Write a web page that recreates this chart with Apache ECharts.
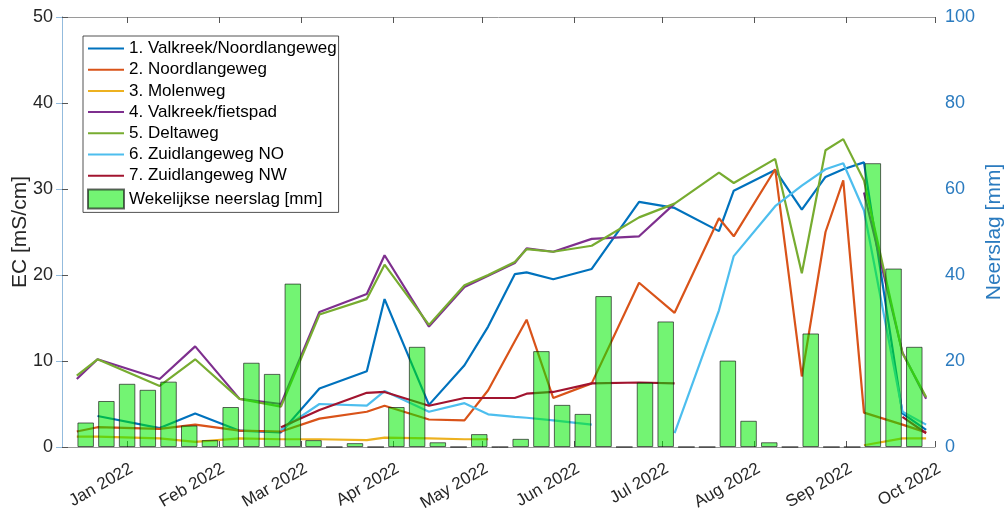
<!DOCTYPE html>
<html>
<head>
<meta charset="utf-8">
<script src="https://cdn.jsdelivr.net/npm/echarts@6/dist/echarts.min.js"></script>
<style>
  html, body { margin: 0; padding: 0; background: #fff; }
  #chart { width: 1006px; height: 516px; }
</style>
</head>
<body>
<div id="chart"></div>
<script>
// Sampling dates of the EC measurements (null = no measurement on that date)
const sampleDates = ['2021-12-15','2021-12-22','2022-01-12','2022-01-24','2022-02-08','2022-02-22',
  '2022-03-07','2022-03-23','2022-03-29','2022-04-13','2022-04-25','2022-05-03','2022-05-12',
  '2022-05-16','2022-05-25','2022-06-07','2022-06-23','2022-07-05','2022-07-20','2022-07-25',
  '2022-08-08','2022-08-17','2022-08-25','2022-08-31','2022-09-07','2022-09-20','2022-09-28'];

// EC [mS/cm] per location
const ecValkreekNoordlangeweg = [null,3.6,2.2,3.9,1.9,1.7,6.8,8.8,17.2,4.9,9.5,14.0,20.1,20.3,19.5,20.7,28.5,27.8,25.1,29.8,32.2,27.6,31.4,32.3,33.1,3.9,2.0];
const ecNoordlangeweg = [1.8,2.3,2.1,2.6,1.9,1.8,3.3,4.1,4.8,3.2,3.1,6.6,12.3,14.8,5.7,7.4,19.1,15.6,26.6,24.5,32.3,8.2,25.0,31.0,4.0,2.6,1.7];
const ecMolenweg = [1.2,1.2,1.0,0.6,1.0,0.9,0.9,0.8,1.1,1.0,0.9,0.9,null,null,null,null,null,null,null,null,null,null,null,null,0.2,1.0,1.0];
const ecValkreekFietspad = [7.9,10.2,7.9,11.7,5.6,5.0,15.7,17.8,22.3,14.0,18.6,19.9,21.4,23.1,22.7,24.2,24.5,28.3,null,null,null,null,null,null,29.6,11.0,5.6];
const ecDeltaweg = [8.3,10.2,7.1,10.2,5.6,4.7,15.4,17.2,21.2,14.2,18.8,20.0,21.5,23.0,22.7,23.4,26.7,28.3,31.9,30.7,33.5,20.2,34.5,35.8,31.0,10.9,5.8];
const ecZuidlangewegNO = [null,null,null,null,null,2.0,5.0,4.8,6.5,4.1,5.1,3.8,3.5,3.4,3.1,2.6,null,1.6,15.9,22.2,28.0,30.4,32.3,33.0,27.5,4.1,2.6];
const ecZuidlangewegNW = [null,null,null,null,null,2.3,4.3,6.3,6.4,4.8,5.7,5.7,5.7,6.2,6.4,7.4,7.5,7.4,null,null,null,null,null,null,null,3.5,1.6];

// Weekly precipitation [mm]
const precipWeeks = ['2021-12-18','2021-12-25','2022-01-01','2022-01-08','2022-01-15','2022-01-22','2022-01-29',
  '2022-02-05','2022-02-12','2022-02-19','2022-02-26','2022-03-05','2022-03-12','2022-03-19','2022-03-26',
  '2022-04-02','2022-04-09','2022-04-16','2022-04-23','2022-04-30','2022-05-07','2022-05-14','2022-05-21',
  '2022-05-28','2022-06-04','2022-06-11','2022-06-18','2022-06-25','2022-07-02','2022-07-09','2022-07-16',
  '2022-07-23','2022-07-30','2022-08-06','2022-08-13','2022-08-20','2022-08-27','2022-09-03','2022-09-10',
  '2022-09-17','2022-09-24'];
const precipMm = [5.7,10.7,14.7,13.3,15.2,5.0,1.6,9.3,19.6,17.0,38.0,1.6,0,0.9,0,9.3,23.3,1.1,0,3.0,0,1.9,22.3,
  9.8,7.7,35.1,0,15.0,29.2,0,0,20.1,6.1,1.1,0,26.4,0,0,66.0,41.5,23.3];

// Month ticks on the date axis
const monthTicks = ['2022-01-01','2022-02-01','2022-03-01','2022-04-01','2022-05-01','2022-06-01',
  '2022-07-01','2022-08-01','2022-09-01','2022-10-01'];
const monthLabels = ['Jan 2022','Feb 2022','Mar 2022','Apr 2022','May 2022','Jun 2022',
  'Jul 2022','Aug 2022','Sep 2022','Oct 2022'];
const axisStart = '2021-12-10';
const axisEnd = '2022-10-01';

const seriesNames = ['1. Valkreek/Noordlangeweg','2. Noordlangeweg','3. Molenweg','4. Valkreek/fietspad',
  '5. Deltaweg','6. Zuidlangeweg NO','7. Zuidlangeweg NW'];
const seriesValues = [ecValkreekNoordlangeweg, ecNoordlangeweg, ecMolenweg, ecValkreekFietspad,
  ecDeltaweg, ecZuidlangewegNO, ecZuidlangewegNW];
const seriesColors = ['#0072BD','#D95319','#EDB120','#7E2F8E','#77AC30','#4DBEEE','#A2142F'];
const precipName = 'Wekelijkse neerslag [mm]';

// Dates become day numbers counted from axisStart
const DAY = 86400000;
function ts(d) {
  const p = d.split('-').map(Number);
  return Date.UTC(p[0], p[1] - 1, p[2]);
}
const t0 = ts(axisStart);
function dayNo(d) { return Math.round((ts(d) - t0) / DAY); }

const tickValues = monthTicks.map(dayNo);
const labelByDay = {};
tickValues.forEach((t, i) => { labelByDay[t] = monthLabels[i]; });

const FONT = 'Liberation Sans, Arial, Helvetica, sans-serif';
const TXT = '#262626';
const RIGHT = '#2B7BBF';

const lineSeries = seriesNames.map((name, k) => ({
  name: name,
  type: 'line',
  xAxisIndex: 0,
  yAxisIndex: 0,
  data: sampleDates.map((d, i) => [dayNo(d), seriesValues[k][i]]),
  symbol: 'none',
  showSymbol: false,
  connectNulls: false,
  lineStyle: { color: seriesColors[k], width: 2.2 },
  itemStyle: { color: seriesColors[k] },
  z: 2
}));

const barSeries = {
  name: precipName,
  type: 'bar',
  xAxisIndex: 0,
  yAxisIndex: 1,
  data: precipWeeks.map((d, i) => [dayNo(d), precipMm[i]]),
  barWidth: 16.5,
  itemStyle: {
    color: 'rgba(0,235,0,0.55)',
    borderColor: 'rgba(20,20,20,0.65)',
    borderWidth: 1
  },
  z: 3
};

// Legend: plain line samples for the stations, a square swatch for the rain bars
const legendData = seriesNames.map((name) => ({ name: name, itemStyle: { opacity: 0 } }))
  .concat([{ name: precipName, icon: 'rect' }]);

const xCommon = {
  type: 'value',
  min: 0,
  max: dayNo(axisEnd),
  splitLine: { show: false },
  axisLine: { show: true, onZero: false, lineStyle: { color: '#9a9a9a', width: 1 } },
  axisTick: { show: true, inside: true, length: 6, customValues: tickValues, lineStyle: { color: '#555' } }
};

const chart = echarts.init(document.getElementById('chart'), null, { renderer: 'canvas' });
chart.setOption({
  animation: false,
  backgroundColor: '#fff',
  grid: { left: 62, right: 71, top: 17, bottom: 69, containLabel: false, outerBoundsMode: 'none' },
  legend: {
    orient: 'vertical',
    left: 83,
    top: 36,
    padding: [4, 2, 3, 4],
    itemWidth: 36,
    itemHeight: 19,
    itemGap: 4.2,
    backgroundColor: '#fff',
    borderColor: '#262626',
    borderWidth: 0.8,
    textStyle: { fontFamily: FONT, fontSize: 17, color: '#000' },
    data: legendData
  },
  xAxis: [
    Object.assign({}, xCommon, {
      position: 'bottom',
      axisLabel: {
        show: true,
        customValues: tickValues,
        rotate: 30,
        align: 'right',
        verticalAlign: 'top',
        margin: 13,
        hideOverlap: false,
        fontFamily: FONT,
        fontSize: 17,
        color: TXT,
        formatter: (v) => labelByDay[v] || ''
      }
    }),
    Object.assign({}, xCommon, {
      position: 'top',
      axisLabel: { show: false }
    })
  ],
  yAxis: [
    {
      type: 'value',
      position: 'left',
      min: 0,
      max: 50,
      interval: 10,
      name: 'EC [mS/cm]',
      nameLocation: 'middle',
      nameGap: 31,
      nameMoveOverlap: false,
      nameTextStyle: { fontFamily: FONT, fontSize: 21, color: TXT },
      splitLine: { show: false },
      axisLine: { show: true, lineStyle: { color: '#8a8a8a', width: 1 } },
      axisTick: { show: true, inside: true, length: 6, lineStyle: { color: '#555' } },
      axisLabel: { fontFamily: FONT, fontSize: 18, color: TXT, margin: 9 }
    },
    {
      type: 'value',
      position: 'right',
      min: 0,
      max: 100,
      interval: 20,
      name: 'Neerslag [mm]',
      nameLocation: 'middle',
      nameGap: 49,
      nameMoveOverlap: false,
      nameTextStyle: { fontFamily: FONT, fontSize: 21, color: RIGHT },
      splitLine: { show: false },
      axisLine: { show: true, lineStyle: { color: '#93BBDD', width: 1 } },
      axisTick: { show: true, inside: true, length: 6, lineStyle: { color: '#93BBDD' } },
      axisLabel: { fontFamily: FONT, fontSize: 18, color: RIGHT, margin: 10 }
    }
  ],
  series: lineSeries.concat([barSeries])
});
</script>
</body>
</html>
